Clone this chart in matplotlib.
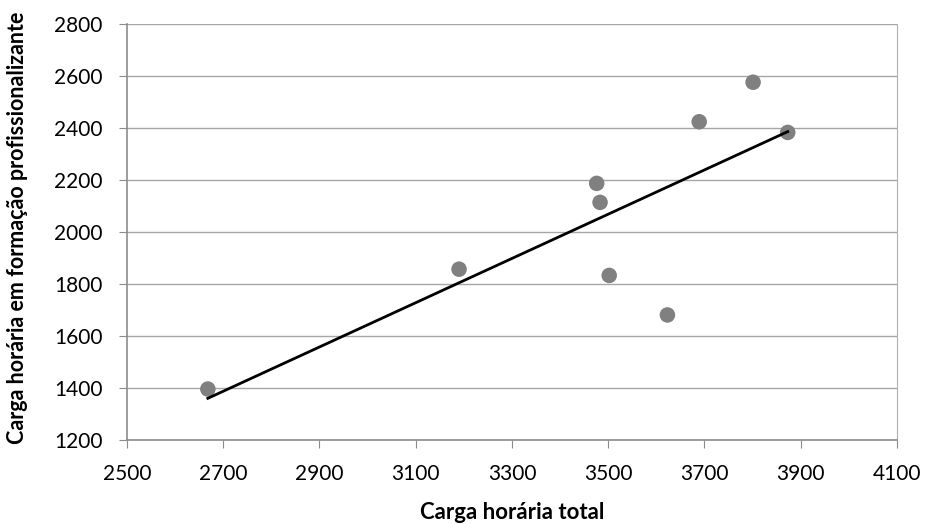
import matplotlib.pyplot as plt
import numpy as np

plt.rcParams['font.family'] = ['Lato', 'DejaVu Sans']

# Dados
carga_total = [2668, 3190, 3476, 3483, 3502, 3623, 3689, 3801, 3873]
carga_profissional = [1396, 1857, 2187, 2114, 1833, 1681, 2424, 2576, 2383]
x_ticks = [2500, 2700, 2900, 3100, 3300, 3500, 3700, 3900, 4100]
y_ticks = [1200, 1400, 1600, 1800, 2000, 2200, 2400, 2600, 2800]

fig = plt.figure(figsize=(9.25, 5.24), dpi=100)
ax = fig.add_axes([0.1373, 0.1603, 0.8324, 0.7939])

ax.scatter(carga_total, carga_profissional, s=125, color='#808080', zorder=3, edgecolors='none')

# Linha de tendência (regressão linear)
a, b = np.polyfit(carga_total, carga_profissional, 1)
xs = np.array([min(carga_total), max(carga_total)])
ax.plot(xs, a * xs + b, color='black', linewidth=2, zorder=4)

ax.set_xlim(2500, 4100)
ax.set_ylim(1200, 2800)
ax.set_xticks(x_ticks)
ax.set_yticks(y_ticks)
ax.tick_params(labelsize=15, length=5.5, color='#8c8c8c')
ax.tick_params(axis='x', pad=12)
ax.tick_params(axis='y', pad=12)
ax.yaxis.grid(True, color='#a6a6a6', linewidth=1)
ax.set_axisbelow(True)

for side in ['left', 'bottom']:
    ax.spines[side].set_color('#8c8c8c')
    ax.spines[side].set_linewidth(1.2)
ax.spines['right'].set_color('#b0b0b0')
ax.spines['top'].set_visible(False)

ax.set_xlabel('Carga horária total', fontsize=16, fontweight='bold', va='center')
ax.set_ylabel('Carga horária em formação profissionalizante', fontsize=15.5,
              fontweight='bold', va='center')
ax.xaxis.set_label_coords(0.5, -0.175)
ax.yaxis.set_label_coords(-0.142, 0.51)

fig.savefig('out.png', dpi=100)
